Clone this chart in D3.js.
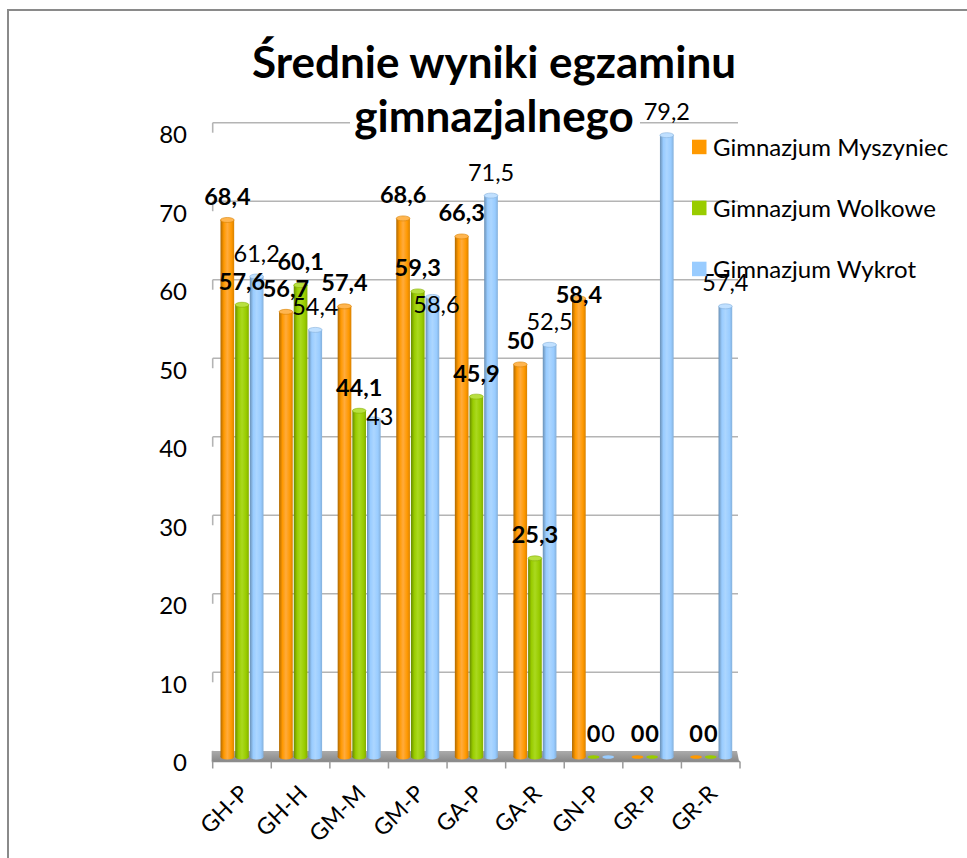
<!DOCTYPE html>
<html>
<head>
<meta charset="utf-8">
<script src="https://cdn.jsdelivr.net/npm/d3@7"></script>
<style>
  html, body { margin: 0; padding: 0; background: #fff; }
  text { font-family: Lato, "Open Sans", sans-serif; }
</style>
</head>
<body>
<div id="chart"></div>
<script>
// data
var categories = ["GH-P", "GH-H", "GM-M", "GM-P", "GA-P", "GA-R", "GN-P", "GR-P", "GR-R"];
var seriesNames = ["Gimnazjum Myszyniec", "Gimnazjum Wolkowe", "Gimnazjum Wykrot"];
var myszyniec = [68.4, 56.7, 57.4, 68.6, 66.3, 50, 58.4, 0, 0];
var wolkowe = [57.6, 60.1, 44.1, 59.3, 45.9, 25.3, 0, 0, 0];
var wykrot = [61.2, 54.4, 43, 58.6, 71.5, 52.5, 0, 79.2, 57.4];
var yTicks = [0, 10, 20, 30, 40, 50, 60, 70, 80];
var titleLines = ["Średnie wyniki egzaminu", "gimnazjalnego"];

var seriesValues = [myszyniec, wolkowe, wykrot];

var colors = [
  { dark: "#b06900", mid: "#ff9900", light: "#ffab3d", edge: "#d98200", top: "#ffb54f" },
  { dark: "#678a00", mid: "#99cc00", light: "#aad91f", edge: "#84ae00", top: "#b8e040" },
  { dark: "#6a90b5", mid: "#99ccff", light: "#acd6ff", edge: "#84b0db", top: "#c0e0ff" }
];

// a few labels sit off their usual spot in the original (key: category|series)
var labelNudge = {
  "GM-M|2": [6, 21],
  "GM-P|2": [4, 31],
  "GN-P|0": [0, 20]
};

var svg = d3.select("#chart")
  .append("svg")
    .attr("width", 967)
    .attr("height", 858);

var defs = svg.append("defs");
colors.forEach(function(c, i) {
  var g = defs.append("linearGradient")
    .attr("id", "bar" + i)
    .attr("x1", "0%").attr("y1", "0%")
    .attr("x2", "100%").attr("y2", "0%");
  g.append("stop").attr("offset", "0%").attr("stop-color", c.dark);
  g.append("stop").attr("offset", "25%").attr("stop-color", c.mid);
  g.append("stop").attr("offset", "50%").attr("stop-color", c.light);
  g.append("stop").attr("offset", "80%").attr("stop-color", c.mid);
  g.append("stop").attr("offset", "100%").attr("stop-color", c.edge);
});

var floorGrad = defs.append("linearGradient")
  .attr("id", "floor")
  .attr("x1", "0%").attr("y1", "0%")
  .attr("x2", "0%").attr("y2", "100%");
floorGrad.append("stop").attr("offset", "0%").attr("stop-color", "#ababab");
floorGrad.append("stop").attr("offset", "100%").attr("stop-color", "#8a8a8a");

// outer frame (chart area border, cut off at right and bottom)
svg.append("path")
  .attr("d", "M8,858 L8,10 L967,10")
  .attr("fill", "none")
  .attr("stroke", "#8a8a8a")
  .attr("stroke-width", 2);

// scales
var x = d3.scaleBand()
  .domain(categories)
  .range([212.7, 740]);

var xSub = d3.scaleBand()
  .domain([0, 1, 2])
  .range([0, 44]);

var groupOffset = (x.bandwidth() - 44) / 2;

var yWall = d3.scaleLinear()
  .domain([0, 80])
  .range([750.8, 122.7]);

var yBar = d3.scaleLinear()
  .domain([0, 80])
  .range([757, 128.9]);

// back wall gridlines
yTicks.forEach(function(v) {
  if (v > 0) {
    svg.append("line")
      .attr("x1", 212.7).attr("x2", 738)
      .attr("y1", yWall(v)).attr("y2", yWall(v))
      .attr("stroke", "#b4b4b4")
      .attr("stroke-width", 1.6);
  }
  svg.append("line")
    .attr("x1", 212.7).attr("x2", 212.7)
    .attr("y1", yWall(v)).attr("y2", yWall(v) + 10)
    .attr("stroke", "#b4b4b4")
    .attr("stroke-width", 1.6);
});

// y tick labels
svg.append("g")
  .selectAll("text")
  .data(yTicks)
  .join("text")
    .attr("x", 187)
    .attr("y", function(d) { return yWall(d) + 11; })
    .attr("text-anchor", "end")
    .attr("dominant-baseline", "central")
    .attr("font-size", 24)
    .attr("fill", "#000")
    .text(function(d) { return d; });

// floor
svg.append("path")
  .attr("d", "M211.7,751 L737,751 L739,761 L211.7,761 Z")
  .attr("fill", "url(#floor)");

// x axis line and ticks under the floor
svg.append("line")
  .attr("x1", 211.7).attr("x2", 740)
  .attr("y1", 761.5).attr("y2", 761.5)
  .attr("stroke", "#8c8c8c")
  .attr("stroke-width", 1.5);

var boundaries = categories.map(function(c) { return x(c); }).concat([x.range()[1]]);
svg.append("g")
  .selectAll("line")
  .data(boundaries)
  .join("line")
    .attr("x1", function(d) { return d; })
    .attr("x2", function(d) { return d; })
    .attr("y1", 761.5)
    .attr("y2", 768.5)
    .attr("stroke", "#9a9a9a")
    .attr("stroke-width", 1.5);

// x labels, rotated
svg.append("g")
  .selectAll("text")
  .data(categories)
  .join("text")
    .attr("transform", function(d) {
      var cx = x(d) + x.bandwidth() / 2 + 8;
      return "translate(" + cx + ",795) rotate(-45)";
    })
    .attr("text-anchor", "end")
    .attr("font-size", 23)
    .attr("fill", "#000")
    .text(function(d) { return d; });

// bars
var barW = xSub.bandwidth();
var bars = [];
categories.forEach(function(cat, ci) {
  seriesValues.forEach(function(vals, si) {
    bars.push({ cat: cat, s: si, v: vals[ci] });
  });
});

var barG = svg.append("g");
bars.forEach(function(b) {
  var bx = x(b.cat) + groupOffset + xSub(b.s);
  var c = colors[b.s];
  if (b.v > 0) {
    barG.append("rect")
      .attr("x", bx + 0.5)
      .attr("y", yBar(b.v))
      .attr("width", barW - 1)
      .attr("height", yBar(0) - yBar(b.v))
      .attr("fill", "url(#bar" + b.s + ")");
    barG.append("ellipse")
      .attr("cx", bx + barW / 2)
      .attr("cy", yBar(0))
      .attr("rx", barW / 2 - 0.5)
      .attr("ry", 2.5)
      .attr("fill", "url(#bar" + b.s + ")");
    barG.append("ellipse")
      .attr("cx", bx + barW / 2)
      .attr("cy", yBar(b.v))
      .attr("rx", barW / 2 - 0.5)
      .attr("ry", 2.5)
      .attr("fill", c.top)
      .attr("stroke", c.edge)
      .attr("stroke-width", 0.6);
  } else {
    barG.append("ellipse")
      .attr("cx", bx + barW / 2)
      .attr("cy", yBar(0))
      .attr("rx", barW / 2 - 1.5)
      .attr("ry", 1.8)
      .attr("fill", c.mid);
  }
});

// value labels
function nudge(d) {
  return labelNudge[d.cat + "|" + d.s] || [0, 0];
}

svg.append("g")
  .selectAll("text")
  .data(bars)
  .join("text")
    .attr("x", function(d) { return x(d.cat) + groupOffset + xSub(d.s) + barW / 2 + nudge(d)[0]; })
    .attr("y", function(d) { return yBar(d.v) - 24 + nudge(d)[1]; })
    .attr("text-anchor", "middle")
    .attr("dominant-baseline", "central")
    .attr("font-size", 23.5)
    .attr("font-weight", function(d) { return d.s < 2 ? "bold" : "normal"; })
    .attr("fill", "#000")
    .text(function(d) { return String(d.v).replace(".", ","); });

// legend
var legend = svg.append("g");
seriesNames.forEach(function(name, i) {
  var ly = 146.7 + i * 61;
  legend.append("rect")
    .attr("x", 692)
    .attr("y", ly - 7)
    .attr("width", 14.5)
    .attr("height", 14.5)
    .attr("fill", colors[i].mid);
  legend.append("text")
    .attr("x", 713)
    .attr("y", ly)
    .attr("dominant-baseline", "central")
    .attr("font-size", 24)
    .attr("fill", "#000")
    .text(name);
});

// title (second line sits on a white box covering the top gridline)
svg.append("rect")
  .attr("x", 350)
  .attr("y", 98)
  .attr("width", 290)
  .attr("height", 50)
  .attr("fill", "#fff");

svg.append("g")
  .selectAll("text")
  .data(titleLines)
  .join("text")
    .attr("x", 494)
    .attr("y", function(d, i) { return 78 + i * 54; })
    .attr("text-anchor", "middle")
    .attr("font-size", 44)
    .attr("font-weight", "bold")
    .attr("fill", "#000")
    .text(function(d) { return d; });
</script>
</body>
</html>
